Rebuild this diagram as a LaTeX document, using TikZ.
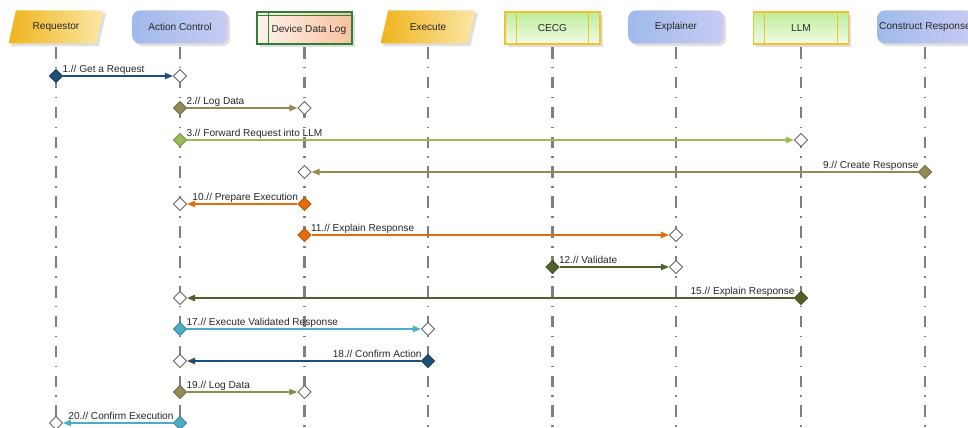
\documentclass[tikz,border=0pt]{standalone}
\usepackage{fontspec}
\setmainfont{Liberation Sans}
\usetikzlibrary{arrows.meta,positioning,shapes.geometric,shadows}

\definecolor{cNavy}{HTML}{1F4E79}
\definecolor{cOlive}{HTML}{948A54}
\definecolor{cLime}{HTML}{9BBB59}
\definecolor{cOrange}{HTML}{E46C0A}
\definecolor{cMoss}{HTML}{4F6228}
\definecolor{cTeal}{HTML}{4BACC6}
\definecolor{cGold}{HTML}{F2C12E}
\definecolor{cLogEdge}{HTML}{2F7F35}
\definecolor{cLife}{HTML}{7F7F7F}
\definecolor{yelA}{HTML}{F0B41C}
\definecolor{yelB}{HTML}{FBE7A6}
\definecolor{bluA}{HTML}{9FBAEA}
\definecolor{bluB}{HTML}{C8CBF3}
\definecolor{logA}{HTML}{FDF3EC}
\definecolor{logB}{HTML}{F7C29E}
\definecolor{grnA}{HTML}{BFEE9A}
\definecolor{grnB}{HTML}{F0FAE6}

\begin{document}
\begin{tikzpicture}[x=0.02cm, y=-0.02cm, >={Triangle[length=4.5pt,width=3.6pt]},
  every node/.style={font=\fontsize{5.75}{7}\selectfont, text=black!85},
  hdr/.style={minimum width=1.9cm, minimum height=0.66cm, inner sep=1pt,
    drop shadow={opacity=0.25, shadow xshift=1.5pt, shadow yshift=-1.5pt}},
  para/.style={hdr, trapezium, trapezium left angle=70, trapezium right angle=110,
    trapezium stretches=true, left color=yelA, right color=yelB},
  ctrl/.style={hdr, rectangle, rounded corners=4pt, left color=bluA, right color=bluB},
  store/.style={hdr, rectangle, minimum height=0.64cm, draw=cLogEdge, line width=0.6pt,
    left color=logA, right color=logB},
  proc/.style={hdr, rectangle, minimum height=0.64cm, draw=cGold, line width=0.8pt,
    top color=grnA, bottom color=grnB},
  lifeline/.style={cLife, line width=1.25pt, dash pattern=on 6.6pt off 4.7pt on 0.9pt off 4.8pt},
  src/.style={diamond, minimum size=7.6pt, inner sep=0pt, fill=#1, draw=#1!75!black, line width=0.4pt},
  dst/.style={diamond, minimum size=7.6pt, inner sep=0pt, fill=white, draw=black!60, line width=0.5pt},
  msg/.style={->, line width=0.8pt},
  lbl/.style={inner sep=0.5pt, text=black!85},
  rlbl/.style={lbl, pos=0, anchor=base west, xshift=-1.2pt, yshift=2.2pt},
  llbl/.style={lbl, pos=0, anchor=base east, xshift=1.2pt, yshift=2.2pt}]

  \path[use as bounding box, clip] (0,0) rectangle (968,428);

  \node[para] (req) at (56,27) {Requestor};
  \node[ctrl] (act) at (180,27) {Action Control};
  \node[store] (dlog) at (304.5,28) {\hspace*{5pt}\raisebox{-1.3pt}[\height][\depth]{Device Data Log}};
  \node[para] (exe) at (428,27) {Execute};
  \node[proc] (cecg) at (552.5,28) {CECG};
  \node[ctrl] (expl) at (676,27) {Explainer};
  \node[proc] (llm) at (801,28) {LLM};
  \node[ctrl] (cons) at (925,27) {Construct Response};

  \draw[cLogEdge, line width=0.6pt] ([xshift=6.8pt]dlog.north west) -- ([xshift=6.8pt]dlog.south west);
  \draw[cLogEdge, line width=0.6pt] ([yshift=-2.3pt]dlog.north west) -- ([yshift=-2.3pt]dlog.north east);
  \draw[cGold, line width=0.8pt] ([xshift=6.8pt]cecg.north west) -- ([xshift=6.8pt]cecg.south west);
  \draw[cGold, line width=0.8pt] ([xshift=-6.8pt]cecg.north east) -- ([xshift=-6.8pt]cecg.south east);
  \draw[cGold, line width=0.8pt] ([xshift=6.8pt]llm.north west) -- ([xshift=6.8pt]llm.south west);
  \draw[cGold, line width=0.8pt] ([xshift=-6.8pt]llm.north east) -- ([xshift=-6.8pt]llm.south east);

  \coordinate (top) at (0,47);
  \coordinate (bot) at (0,432);
  \draw[lifeline] (req |- top) -- (req |- bot);
  \draw[lifeline] (act |- top) -- (act |- bot);
  \draw[lifeline] (dlog |- top) -- (dlog |- bot);
  \draw[lifeline] (exe |- top) -- (exe |- bot);
  \draw[lifeline] (cecg |- top) -- (cecg |- bot);
  \draw[lifeline] (expl |- top) -- (expl |- bot);
  \draw[lifeline] (llm |- top) -- (llm |- bot);
  \draw[lifeline] (cons |- top) -- (cons |- bot);

  \node[src=cNavy] (s1) at (req |- 0,76) {};
  \node[dst] (d1) at (act |- 0,76) {};
  \draw[msg, cNavy] (s1) -- node[rlbl] (l1) {1.// Get a Request} (d1);

  \node[src=cOlive] (s2) at (act |- 0,108) {};
  \node[dst] (d2) at (dlog |- 0,108) {};
  \draw[msg, cOlive] (s2) -- node[rlbl] (l2) {2.// Log Data} (d2);

  \node[src=cLime] (s3) at (act |- 0,140) {};
  \node[dst] (d3) at (llm |- 0,140) {};
  \draw[msg, cLime] (s3) -- node[rlbl] (l3) {3.// Forward Request into LLM} (d3);

  \node[src=cOlive] (s9) at (cons |- 0,172) {};
  \node[dst] (d9) at (dlog |- 0,172) {};
  \draw[msg, cOlive] (s9) -- node[llbl] (l9) {9.// Create Response} (d9);

  \node[src=cOrange] (s10) at (dlog |- 0,204) {};
  \node[dst] (d10) at (act |- 0,204) {};
  \draw[msg, cOrange] (s10) -- node[llbl] (l10) {10.// Prepare Execution} (d10);

  \node[src=cOrange] (s11) at (dlog |- 0,235) {};
  \node[dst] (d11) at (expl |- 0,235) {};
  \draw[msg, cOrange] (s11) -- node[rlbl] (l11) {11.// Explain Response} (d11);

  \node[src=cMoss] (s12) at (cecg |- 0,267) {};
  \node[dst] (d12) at (expl |- 0,267) {};
  \draw[msg, cMoss] (s12) -- node[rlbl] (l12) {12.// Validate} (d12);

  \node[src=cMoss] (s15) at (llm |- 0,298) {};
  \node[dst] (d15) at (act |- 0,298) {};
  \draw[msg, cMoss] (s15) -- node[llbl] (l15) {15.// Explain Response} (d15);

  \node[src=cTeal] (s17) at (act |- 0,329) {};
  \node[dst] (d17) at (exe |- 0,329) {};
  \draw[msg, cTeal] (s17) -- node[rlbl] (l17) {17.// Execute Validated Response} (d17);

  \node[src=cNavy] (s18) at (exe |- 0,361) {};
  \node[dst] (d18) at (act |- 0,361) {};
  \draw[msg, cNavy] (s18) -- node[llbl] (l18) {18.// Confirm Action} (d18);

  \node[src=cOlive] (s19) at (act |- 0,392) {};
  \node[dst] (d19) at (dlog |- 0,392) {};
  \draw[msg, cOlive] (s19) -- node[rlbl] (l19) {19.// Log Data} (d19);

  \node[src=cTeal] (s20) at (act |- 0,423) {};
  \node[dst] (d20) at (req |- 0,423) {};
  \draw[msg, cTeal] (s20) -- node[llbl] (l20) {20.// Confirm Execution} (d20);
\end{tikzpicture}
\end{document}
